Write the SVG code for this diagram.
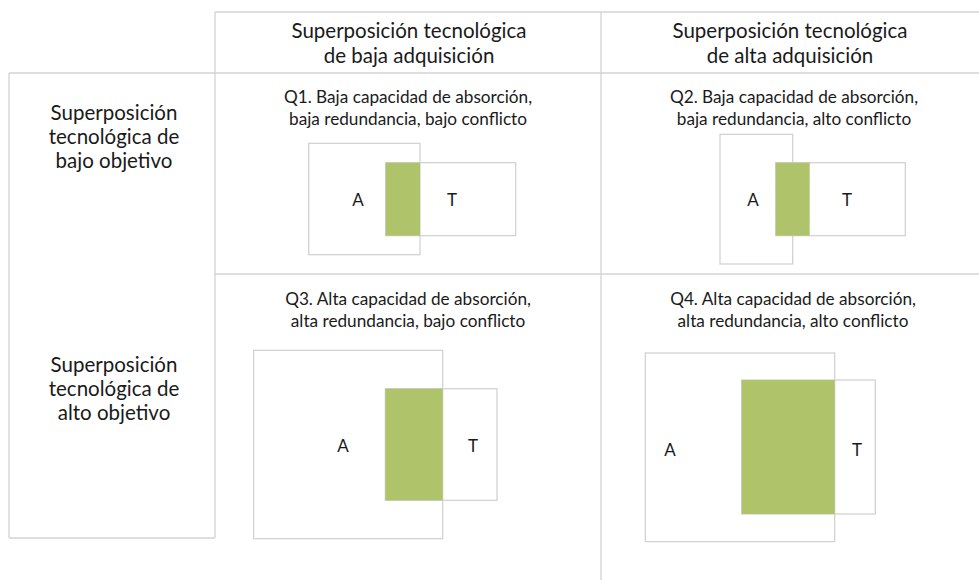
<svg xmlns="http://www.w3.org/2000/svg" width="979" height="580" viewBox="0 0 979 580">
<style>
.ln{stroke:#d3d3d3;stroke-width:1.3;fill:none}
.bx{stroke:#cfcfcf;stroke-width:1.2;fill:none}
.wb{stroke:#cfcfcf;stroke-width:1.2;fill:#fff}
.gr{fill:#afc46a;stroke:none}
text{font-family:Lato,"Liberation Sans",sans-serif;fill:#1a1a1a;text-anchor:middle}
.h{font-size:20.5px}
.q{font-size:17.2px}
.l{font-size:17px}
</style>
<rect width="979" height="580" fill="#fff"/>
<g id="grid">
<line class="ln" x1="215" y1="12" x2="979" y2="12"/>
<line class="ln" x1="215" y1="12" x2="215" y2="538"/>
<line class="ln" x1="601" y1="12" x2="601" y2="580"/>
<line class="ln" x1="9" y1="73" x2="979" y2="73"/>
<line class="ln" x1="9" y1="73" x2="9" y2="538"/>
<line class="ln" x1="9" y1="538" x2="215" y2="538"/>
<line class="ln" x1="215" y1="274" x2="979" y2="274"/>
</g>
<g id="header-baja">
<text class="h" x="409" y="38">Superposición tecnológica</text>
<text class="h" x="409" y="63">de baja adquisición</text>
</g>
<g id="header-alta">
<text class="h" x="790" y="38">Superposición tecnológica</text>
<text class="h" x="790" y="63">de alta adquisición</text>
</g>
<g id="row-bajo">
<text class="h" x="114" y="120">Superposición</text>
<text class="h" x="114" y="144">tecnológica de</text>
<text class="h" x="114" y="168">bajo objetivo</text>
</g>
<g id="row-alto">
<text class="h" x="114" y="372">Superposición</text>
<text class="h" x="114" y="396">tecnológica de</text>
<text class="h" x="114" y="420">alto objetivo</text>
</g>
<g id="q1">
<text class="q" x="408" y="103">Q1. Baja capacidad de absorción,</text>
<text class="q" x="408" y="125">baja redundancia, bajo conflicto</text>
<rect class="bx" x="308.7" y="143.3" width="111.3" height="111.4"/>
<rect class="bx" x="385.7" y="162.7" width="130" height="73"/>
<rect class="gr" x="385.7" y="162.7" width="34.3" height="73"/>
<text class="l" x="358" y="206">A</text>
<text class="l" x="452" y="206">T</text>
</g>
<g id="q2">
<text class="q" x="794" y="103">Q2. Baja capacidad de absorción,</text>
<text class="q" x="794" y="125">baja redundancia, alto conflicto</text>
<rect class="bx" x="720" y="134.3" width="72.7" height="129.7"/>
<rect class="wb" x="775.7" y="162.7" width="129.6" height="73"/>
<rect class="gr" x="775.7" y="162.7" width="34" height="73"/>
<text class="l" x="753" y="206">A</text>
<text class="l" x="847" y="206">T</text>
</g>
<g id="q3">
<text class="q" x="408" y="305">Q3. Alta capacidad de absorción,</text>
<text class="q" x="408" y="327">alta redundancia, bajo conflicto</text>
<rect class="bx" x="253.7" y="350.3" width="189" height="188.4"/>
<rect class="bx" x="385.3" y="388.7" width="111.7" height="111.6"/>
<rect class="gr" x="385.3" y="388.7" width="57.4" height="111.6"/>
<text class="l" x="343" y="452">A</text>
<text class="l" x="473" y="452">T</text>
</g>
<g id="q4">
<text class="q" x="793" y="305">Q4. Alta capacidad de absorción,</text>
<text class="q" x="793" y="327">alta redundancia, alto conflicto</text>
<rect class="bx" x="645.3" y="353" width="189.4" height="188.7"/>
<rect class="bx" x="741.7" y="380" width="133.6" height="134"/>
<rect class="gr" x="741.7" y="380" width="93" height="134"/>
<text class="l" x="670" y="456">A</text>
<text class="l" x="857" y="456">T</text>
</g>
</svg>
